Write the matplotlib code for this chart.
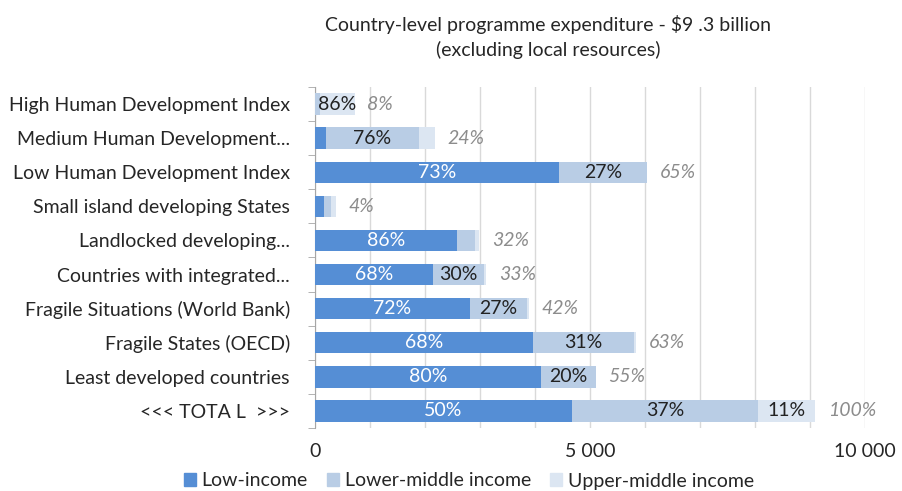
import matplotlib.pyplot as plt
import numpy as np

plt.rcParams['font.family'] = ['Lato', 'DejaVu Sans']

categories = ['High Human Development Index', 'Medium Human Development...',
              'Low Human Development Index', 'Small island developing States',
              'Landlocked developing...', 'Countries with integrated...',
              'Fragile Situations (World Bank)', 'Fragile States (OECD)',
              'Least developed countries', '<<< TOTA L  >>>']
# expenditure, $ million
low_income = [0, 192, 4428, 162, 2579, 2138, 2814, 3966, 4103, 4676]
lower_middle = [100, 1698, 1614, 138, 338, 938, 1034, 1828, 1000, 3379]
upper_middle = [620, 286, 0, 78, 69, 34, 34, 41, 0, 1041]
low_lbl = ['', '', '73%', '', '86%', '68%', '72%', '68%', '80%', '50%']
lm_lbl = ['', '76%', '27%', '', '', '30%', '27%', '31%', '20%', '37%']
um_lbl = ['86%', '', '', '', '', '', '', '', '', '11%']
share_lbl = ['8%', '24%', '65%', '4%', '32%', '33%', '42%', '63%', '55%', '100%']

c_low = '#558ED5'
c_lm = '#B9CDE5'
c_um = '#DCE6F2'

fig = plt.figure(figsize=(9.03, 4.91), dpi=100)
ax = fig.add_axes([315/903, 1-428/491, 550/903, 341/491])

y = np.arange(len(categories))
low = np.array(low_income)
lm = np.array(lower_middle)
um = np.array(upper_middle)
h = 0.63
ax.barh(y, low, height=h, color=c_low, zorder=3)
ax.barh(y, lm, left=low, height=h, color=c_lm, zorder=3)
ax.barh(y, um, left=low+lm, height=h, color=c_um, zorder=3)

fs = 14
for i in range(len(categories)):
    if low_lbl[i]:
        ax.text(low[i]/2, y[i], low_lbl[i], ha='center', va='center', color='white', fontsize=fs, zorder=4)
    if lm_lbl[i]:
        ax.text(low[i]+lm[i]/2, y[i], lm_lbl[i], ha='center', va='center', color='#222222', fontsize=fs, zorder=4)
    if um_lbl[i]:
        ax.text(low[i]+lm[i]+um[i]/2, y[i], um_lbl[i], ha='center', va='center', color='#222222', fontsize=fs, zorder=4)
    tot = low[i]+lm[i]+um[i]
    ax.text(tot+230, y[i], share_lbl[i], ha='left', va='center', color='#8C8C8C',
            fontsize=fs, style='italic', zorder=4)

ax.set_xlim(0, 10000)
ax.set_ylim(len(categories)-0.5, -0.5)
ax.set_yticks(y)
ax.set_yticklabels(categories, fontsize=fs, color='#262626')
ax.set_yticks(np.arange(-0.5, len(categories), 1), minor=True)
ax.tick_params(axis='y', which='major', length=0, pad=18)
ax.tick_params(axis='y', which='minor', length=5, color='#A6A6A6')
ax.set_xticks(np.arange(0, 10001, 1000))
ax.set_xticklabels(['0' if v == 0 else ('{:,}'.format(v).replace(',', ' ') if v % 5000 == 0 else '')
                    for v in range(0, 10001, 1000)], fontsize=fs, color='#262626')
ax.tick_params(axis='x', length=0, pad=11)
ax.grid(axis='x', color='#D9D9D9', linewidth=1, zorder=0)
for s in ['top', 'right', 'bottom']:
    ax.spines[s].set_visible(False)
ax.spines['left'].set_color('#A6A6A6')

fig.text(548/903, 1-24/491, 'Country-level programme expenditure - $9 .3 billion',
         ha='center', va='center', fontsize=fs, color='#262626')
fig.text(548/903, 1-50/491, '(excluding local resources)',
         ha='center', va='center', fontsize=fs, color='#262626')

handles = [plt.Rectangle((0, 0), 1, 1, color=c) for c in (c_low, c_lm, c_um)]
fig.legend(handles, ['Low-income', 'Lower-middle income', 'Upper-middle income'],
           loc='center', bbox_to_anchor=(469/903, 1-481/491), ncol=3, frameon=False,
           fontsize=fs, handlelength=0.6, handleheight=0.6, handletextpad=0.3,
           columnspacing=1.0, labelcolor='#262626')

fig.savefig('out.png', dpi=100)
